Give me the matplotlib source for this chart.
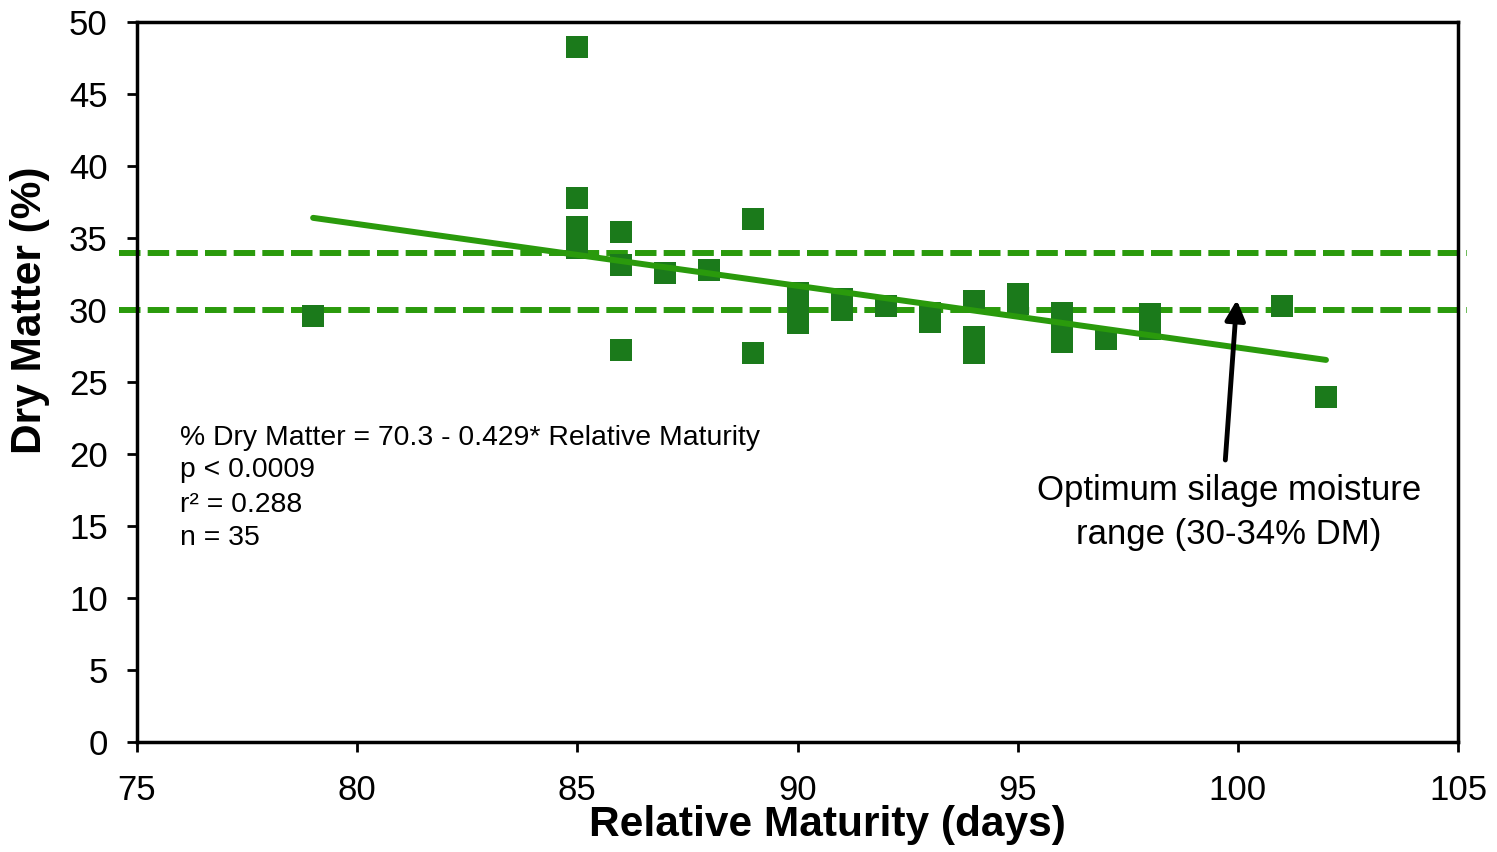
import numpy as np
import matplotlib
matplotlib.use("Agg")
import matplotlib.pyplot as plt

plt.rcParams['font.family'] = ['Liberation Sans', 'DejaVu Sans']

# relative maturity (days) and dry matter (%)
maturity = [79,
            85, 85, 85, 85, 85, 85,
            86, 86, 86,
            87, 88,
            89, 89,
            90, 90, 90,
            91, 91,
            92,
            93, 93,
            94, 94, 94,
            95, 95,
            96, 96, 96,
            97,
            98, 98,
            101, 102]
dry_matter = [29.6,
              48.3, 37.8, 35.8, 35.2, 34.6, 34.3,
              35.4, 33.1, 27.2,
              32.6, 32.8,
              36.3, 27.0,
              31.2, 30.2, 29.1,
              30.8, 30.0,
              30.3,
              29.8, 29.2,
              30.6, 28.1, 27.0,
              31.1, 30.4,
              29.8, 29.3, 27.8,
              28.0,
              29.7, 28.7,
              30.3, 24.0]

# regression: %DM = 70.3 - 0.429 * RM
intercept = 70.3
slope = -0.429
fit_range = [79, 102]

# optimum moisture range (% DM)
optimum = [30, 34]

eq_lines = ['% Dry Matter = 70.3 - 0.429* Relative Maturity',
            'p < 0.0009',
            'r\u00b2 = 0.288',
            'n = 35']

marker_col = '#1b7a1b'
line_col = '#2a9a0c'

fig = plt.figure(figsize=(14.97, 8.52), dpi=100)
ax = fig.add_axes([0.0915, 0.129, 0.8825, 0.845])

# optimum range dashed lines, slightly past the axes like the original
for yv in optimum:
    ax.plot([74.6, 105.2], [yv, yv], color=line_col, lw=4.3,
            dashes=(3.6, 1.2), clip_on=False, zorder=2)

ax.plot(maturity, dry_matter, 's', color=marker_col, ms=15.5, mew=0, zorder=3)

xf = np.array(fit_range, dtype=float)
ax.plot(xf, intercept + slope * xf, color=line_col, lw=4.3,
        solid_capstyle='round', zorder=4)

ax.set_xlim(75, 105)
ax.set_ylim(0, 50)
ax.set_xticks(np.arange(75, 106, 5))
ax.set_yticks(np.arange(0, 51, 5))
ax.tick_params(axis='both', labelsize=25, length=7, width=2, direction='out')
ax.tick_params(axis='x', pad=16)
ax.tick_params(axis='y', pad=14)
for s in ['top', 'right', 'left', 'bottom']:
    ax.spines[s].set_linewidth(2.5)

ax.set_xlabel('Relative Maturity (days)', fontsize=30.5, fontweight='bold')
ax.set_ylabel('Dry Matter (%)', fontsize=30.5, fontweight='bold')
# labels sit a bit off-centre in the original
ax.xaxis.set_label_coords(0.523, -0.088)
ax.yaxis.set_label_coords(-0.066, 0.6)

# regression stats
ys = [21.1, 18.9, 16.5, 14.2]
for txt, yv in zip(eq_lines, ys):
    ax.text(75.98, yv, txt, fontsize=20.4, ha='left', va='center')

# annotation with arrow
ax.annotate('', xy=(99.98, 30.9), xytext=(99.71, 19.4),
            arrowprops=dict(arrowstyle='-|>,head_length=1.2,head_width=0.6',
                            color='black', lw=3.5), zorder=5)
ax.text(99.8, 17.5, 'Optimum silage moisture', fontsize=25, ha='center', va='center')
ax.text(99.8, 14.4, 'range (30-34% DM)', fontsize=25, ha='center', va='center')

fig.savefig('out.png', dpi=100)
